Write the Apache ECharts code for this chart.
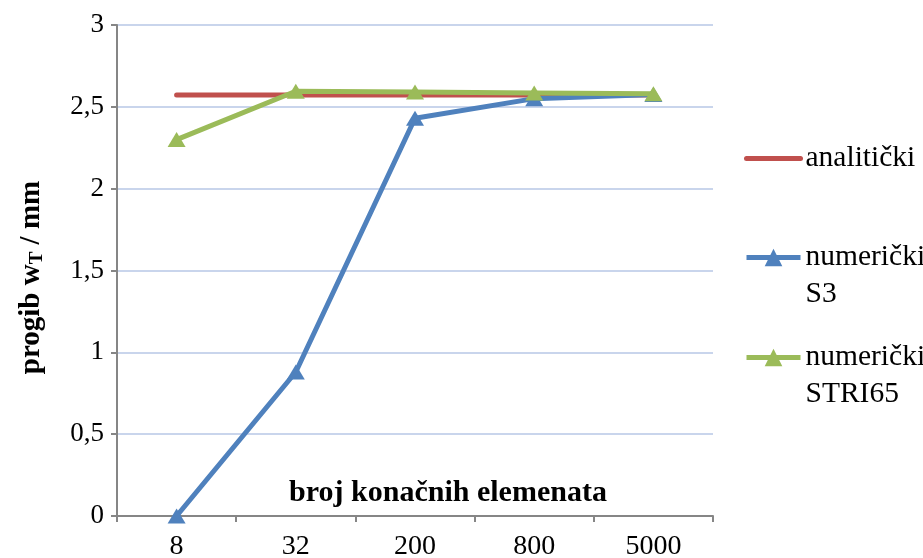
<!DOCTYPE html>
<html>
<head>
<meta charset="utf-8">
<script src="https://cdn.jsdelivr.net/npm/echarts@6/dist/echarts.min.js"></script>
<style>
  html, body { margin: 0; padding: 0; background: #fff; }
  #chart { width: 923px; height: 558px; }
</style>
</head>
<body>
<div id="chart"></div>
<script>
const categories = ['8', '32', '200', '800', '5000']
const analiticki = [2.572, 2.572, 2.572, 2.572, 2.572]
const numerickiS3 = [0.0, 0.88, 2.43, 2.55, 2.575]
const numerickiSTRI65 = [2.30, 2.595, 2.59, 2.585, 2.58]
const yTicks = ['0', '0,5', '1', '1,5', '2', '2,5', '3']

const font = '"Liberation Serif", "Times New Roman", serif'

// one legend box per entry; two-line entries get an empty first line so the icon sits on "numerički"
function legendAt(top, name, twoLines, extra) {
  return Object.assign({
    orient: 'vertical',
    left: 744,
    top: top,
    padding: 0,
    itemWidth: 54,
    itemHeight: 22,
    itemGap: 0,
    lineStyle: { width: 5 },
    formatter: function (n) { return twoLines ? '\n' + n : n },
    textStyle: { fontFamily: font, fontSize: 29.5, color: '#000', lineHeight: 37 },
    data: [name]
  }, extra || {})
}

const option = {
  animation: false,
  backgroundColor: '#fff',
  grid: { left: 117, right: 210, top: 25, bottom: 42, outerBoundsMode: 'none', containLabel: false },
  legend: [
    legendAt(140, 'analitički', false, { data: [{ name: 'analitički', itemStyle: { opacity: 0 } }] }),
    legendAt(202, 'numerički\nS3', true),
    legendAt(302, 'numerički\nSTRI65', true)
  ],
  xAxis: {
    type: 'category',
    data: categories,
    boundaryGap: true,
    name: 'broj konačnih elemenata',
    nameLocation: 'middle',
    nameGap: -38,
    nameTextStyle: { fontFamily: font, fontSize: 30, fontWeight: 'bold', color: '#000', padding: [0, 0, 0, 66] },
    axisLine: { lineStyle: { color: '#868686', width: 2 } },
    axisTick: { show: true, length: 6, lineStyle: { color: '#868686', width: 2 } },
    axisLabel: { fontFamily: font, fontSize: 28, color: '#000', margin: 17 },
    splitLine: { show: false }
  },
  yAxis: {
    type: 'value',
    min: 0,
    max: 3,
    interval: 0.5,
    name: '{n|progib w}{s|T}{n| / mm}',
    nameLocation: 'middle',
    nameGap: 70,
    nameTextStyle: {
      padding: [0, 14, 0, 0],
      rich: {
        n: { fontFamily: font, fontSize: 29, fontWeight: 'bold', color: '#000' },
        s: { fontFamily: font, fontSize: 19, fontWeight: 'bold', color: '#000', padding: [12, 0, 0, 0] }
      }
    },
    axisLine: { show: true, lineStyle: { color: '#868686', width: 2 } },
    axisTick: { show: true, length: 6, lineStyle: { color: '#868686', width: 2 } },
    axisLabel: {
      fontFamily: font, fontSize: 27, color: '#000', margin: 13,
      formatter: function (v) { return yTicks[Math.round(v * 2)] }
    },
    splitLine: { show: true, lineStyle: { color: '#b7c7e6', width: 1.5 } }
  },
  series: [
    {
      name: 'analitički',
      type: 'line',
      data: analiticki,
      symbol: 'none',
      color: '#c0504d',
      lineStyle: { width: 5, color: '#c0504d', cap: 'round' }
    },
    {
      name: 'numerički\nS3',
      type: 'line',
      data: numerickiS3,
      symbol: 'triangle',
      symbolSize: [18, 15],
      color: '#4f81bd',
      itemStyle: { color: '#4f81bd' },
      lineStyle: { width: 5, color: '#4f81bd' }
    },
    {
      name: 'numerički\nSTRI65',
      type: 'line',
      data: numerickiSTRI65,
      symbol: 'triangle',
      symbolSize: [18, 15],
      color: '#9bbb59',
      itemStyle: { color: '#9bbb59' },
      lineStyle: { width: 5, color: '#9bbb59' }
    }
  ]
}

const myChart = echarts.init(document.getElementById('chart'))
myChart.setOption(option)
</script>
</body>
</html>
